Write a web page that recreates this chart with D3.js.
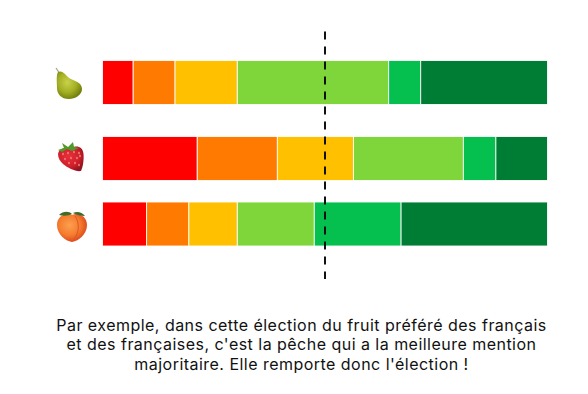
<!DOCTYPE html>
<html>
<head>
<meta charset="utf-8">
<script src="https://cdn.jsdelivr.net/npm/d3@7"></script>
<style>
  html, body { margin: 0; padding: 0; background: #fff; }
  svg { display: block; }
  text { font-family: "Inter", "Noto Sans", sans-serif; fill: #111; }
</style>
</head>
<body>
<div id="chart"></div>
<script>
const FRUITS = ['poire', 'fraise', 'peche'];
const MENTIONS = ['tres_mal', 'mal', 'passable', 'assez_bien', 'bien', 'tres_bien'];
const COLORS = ['#ff0000', '#ff7a00', '#ffc000', '#7ed63a', '#05c04e', '#007d34'];

// parts de chaque mention, en %
const POIRE = [6.9, 9.4, 14, 34, 7.2, 28.5];
const FRAISE = [21.3, 18, 17.1, 24.7, 7.3, 11.6];
const PECHE = [9.9, 9.5, 10.9, 17.3, 19.5, 32.9];
const VOTES = { poire: POIRE, fraise: FRAISE, peche: PECHE };

const MEDIANE = 50;
const TEXTE = [
    "Par exemple, dans cette élection du fruit préféré des français",
    "et des françaises, c'est la pêche qui a la meilleure mention",
    "majoritaire. Elle remporte donc l'élection !"
];

const WIDTH = 588;
const HEIGHT = 394;
const BAR_HEIGHT = 44;

const svg = d3.select("#chart").append("svg:svg").attr("width", WIDTH).attr("height", HEIGHT);
const xScale = d3.scaleLinear().domain([0, 100]).range([102.5, 547.5]);
// les lignes ne sont pas régulièrement espacées sur l'image
const yScale = d3.scaleOrdinal().domain(FRUITS).range([82.5, 158.5, 224]);
const color = d3.scaleOrdinal().domain(MENTIONS).range(COLORS);

// gradients des fruits
const defs = svg.append("defs");
function gradient(id, stops) {
    const g = defs.append("radialGradient").attr("id", id).attr("cx", "42%").attr("cy", "40%").attr("r", "65%");
    stops.forEach((s) => g.append("stop").attr("offset", s[0]).attr("stop-color", s[1]));
}
gradient("gradPoire", [[0, "#c9d24a"], [0.55, "#a4b024"], [1, "#6c7a08"]]);
gradient("gradFraise", [[0, "#e8303a"], [0.65, "#cf1f2a"], [1, "#8f1420"]]);
gradient("gradPeche", [[0, "#fba050"], [0.55, "#f67c2e"], [1, "#d6401c"]]);
defs.append("filter").attr("id", "flou").append("feGaussianBlur").attr("stdDeviation", 0.45);

// barres
const stack = FRUITS.map((f) => {
    let cumul = 0;
    return VOTES[f].map((v, i) => {
        const d = { fruit: f, mention: MENTIONS[i], start: cumul, end: cumul + v };
        cumul += v;
        return d;
    });
});
svg.append("g").selectAll("g").data(stack).enter().append("g")
    .selectAll("rect").data((d) => d).enter().append("rect")
    .attr("x", (d) => xScale(d.start))
    .attr("y", (d) => yScale(d.fruit) - BAR_HEIGHT / 2)
    .attr("width", (d) => xScale(d.end) - xScale(d.start))
    .attr("height", BAR_HEIGHT)
    .attr("fill", (d) => color(d.mention))
    .attr("stroke", "#fff")
    .attr("stroke-opacity", 0.85)
    .attr("stroke-width", 1);

// fruits (pas de police emoji disponible)
const ICONS = {
    poire: (g) => {
        g.append("path").attr("d", "M-12,-17 L-8,-11").attr("stroke", "#a89f80").attr("stroke-width", 1.2).attr("fill", "none");
        g.append("path").attr("fill", "url(#gradPoire)")
            .attr("d", "M-10,-13 C-6,-15 -3,-11 1,-7 C6,-4 14,-3 14,4 C14,10 7,14 1,14 C-7,14 -11,9 -11,3 C-11,-3 -12,-9 -10,-13 Z");
    },
    fraise: (g) => {
        g.append("path").attr("fill", "url(#gradFraise)")
            .attr("d", "M-13,-3 C-12,-9 -5,-10 0,-9 C5,-12 12,-11 12.5,-3 C13,3 12,10 10,14 C5,15 -3,11 -8,7 C-11,4 -13,1 -13,-3 Z");
        g.append("path").attr("fill", "#4f9a2a")
            .attr("d", "M-13,-7 L-7,-9 L-9,-14 L-3,-10 L2,-15 L3,-10 L8,-9 L1,-6 L-4,-8 L-9,-5 Z");
        const seeds = [[-8, -3], [-3, -4], [3, -5], [8, -4], [-6, 2], [0, 1], [6, 1], [-2, 6], [4, 6], [8, 8], [9, -1]];
        g.selectAll("ellipse").data(seeds).enter().append("ellipse")
            .attr("cx", (d) => d[0]).attr("cy", (d) => d[1]).attr("rx", 0.9).attr("ry", 1.2).attr("fill", "#ea7f78");
    },
    peche: (g) => {
        g.append("path").attr("fill", "url(#gradPeche)")
            .attr("d", "M0,-11 C6,-14 15,-10 15,-1 C15,8 7,15 0,16 C-7,15 -15,8 -15,-1 C-15,-10 -6,-14 0,-11 Z");
        g.append("path").attr("d", "M3,-10 C8,-3 7,7 2,13").attr("stroke", "#d9572b").attr("stroke-width", 1).attr("fill", "none");
        g.append("path").attr("fill", "#3f6b25").attr("d", "M-13,-11 C-9,-15 -3,-15 0,-12 C-4,-10 -9,-10 -13,-11 Z");
        g.append("path").attr("fill", "#3f6b25").attr("d", "M1,-13 C5,-15 10,-14 13,-10 C9,-10 4,-11 1,-13 Z");
    }
};
const ICON_X = { poire: 68, fraise: 71, peche: 72 };
const ICON_Y = { poire: 85, fraise: 157, peche: 226 };
FRUITS.forEach((f) => {
    const g = svg.append("g")
        .attr("transform", `translate(${ICON_X[f]},${ICON_Y[f]})`)
        .attr("filter", "url(#flou)");
    ICONS[f](g);
});

// médiane
svg.append("line")
    .attr("x1", xScale(MEDIANE)).attr("x2", xScale(MEDIANE))
    .attr("y1", 31.5).attr("y2", 279)
    .attr("stroke", "#111")
    .attr("stroke-width", 2)
    .attr("stroke-dasharray", "8,7");

// texte
svg.append("g").selectAll("text").data(TEXTE).enter().append("text")
    .text((d) => d)
    .attr("x", 301.5)
    .attr("y", (d, i) => 331 + i * 19.3)
    .attr("text-anchor", "middle")
    .attr("font-size", 16)
    .attr("letter-spacing", 0.47);
</script>
</body>
</html>
